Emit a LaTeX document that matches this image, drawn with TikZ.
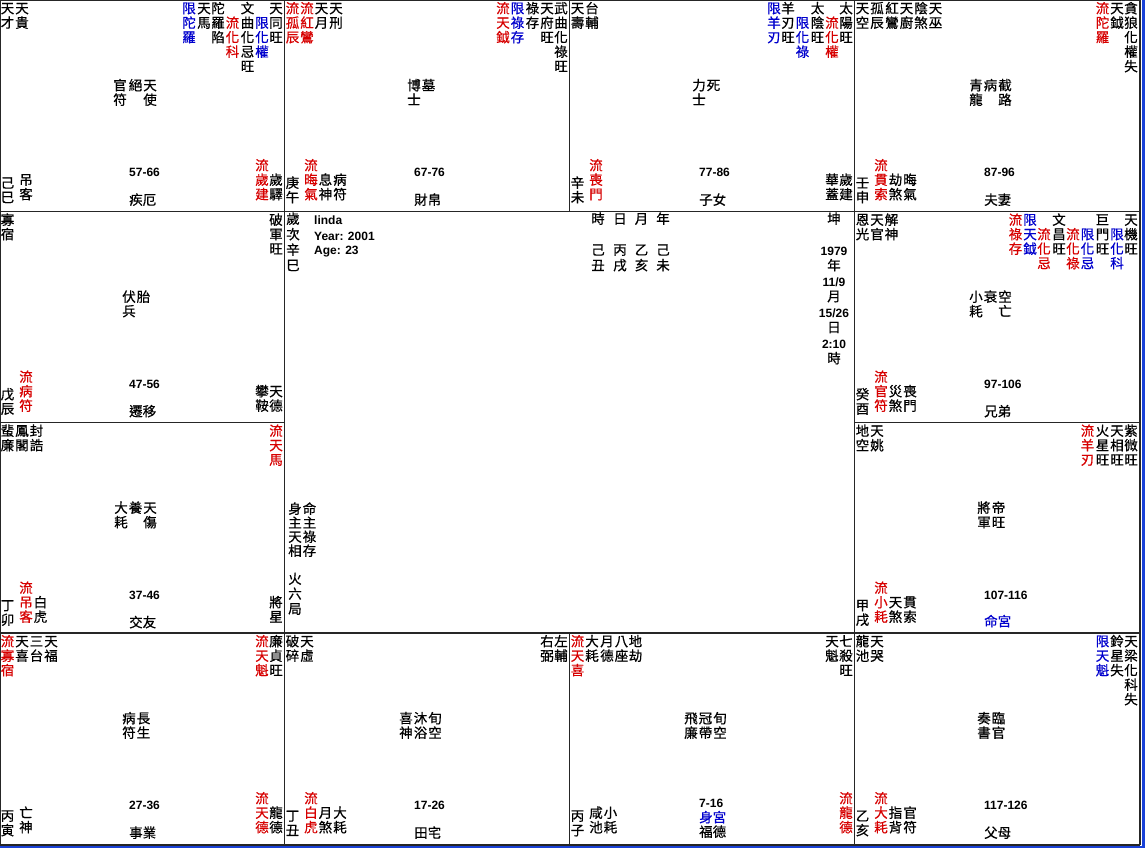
\documentclass[tikz,border=0pt]{standalone}
\usepackage{fontspec}
\setmainfont{Liberation Sans}
\newfontfamily\cjk[FakeBold=0.6]{Noto Sans CJK TC}
\definecolor{zred}{RGB}{215,0,0}
\definecolor{zblue}{RGB}{0,0,205}
\definecolor{zframe}{RGB}{25,65,215}
\newcount\nodecnt
\def\vstep{14.5}
\tikzset{
  ch/.style={inner sep=0pt, font=\cjk\fontsize{13.5}{13.5}\selectfont, text height=0.88em, text depth=0.12em, anchor=center},
  num/.style={inner sep=0pt, font=\fontsize{12}{12}\selectfont\bfseries, anchor=west},
  numc/.style={num, anchor=center},
  pal/.style={ch, anchor=west},
  gridline/.style={line width=1.3pt, black!85},
}
\newcommand\vcol[4]{%
  \foreach \ch [count=\i from 0] in {#4}{%
    \global\advance\nodecnt by 1
    \node[ch, text=#1, name=t\the\nodecnt] at (#2, {#3+\i*\vstep}) {\ch};}}
\begin{document}
\begin{tikzpicture}[x=1pt, y=-1pt]
\useasboundingbox (0,0) rectangle (1145,848);
\fill[white] (0,0) rectangle (1145,848);
% frame and grid
\fill[zframe] (1141.5,0) rectangle (1145,848);
\fill[zframe] (0,845.5) rectangle (1145,848);
\draw[gridline] (0,0.6) -- (1140,0.6);
\draw[gridline] (0.6,0) -- (0.6,845);
\draw[gridline] (1140,0) -- (1140,845);
\draw[gridline] (0,211.5) -- (1140,211.5);
\draw[gridline] (0,422.5) -- (285,422.5);
\draw[gridline] (855,422.5) -- (1140,422.5);
\draw[gridline] (0,633) -- (1140,633);
\draw[gridline] (0,845) -- (1140,845);
\draw[gridline] (284.5,0) -- (284.5,845);
\draw[gridline] (854.5,0) -- (854.5,845);
\draw[gridline] (569.5,0) -- (569.5,211.5);
\draw[gridline] (569.5,633) -- (569.5,845);

% ===== cell 巳 =====
\begin{scope}[shift={(0,0)}]
\vcol{black}{7.5}{9.5}{天,才}
\vcol{black}{22}{9.5}{天,貴}
\vcol{zblue}{189}{9.5}{限,陀,羅}
\vcol{black}{204}{9.5}{天,馬}
\vcol{black}{218}{9.5}{陀,羅,陷}
\vcol{zred}{232.5}{24}{流,化,科}
\vcol{black}{247.5}{9.5}{文,曲,化,忌,旺}
\vcol{zblue}{262}{24}{限,化,權}
\vcol{black}{276}{9.5}{天,同,旺}
\vcol{black}{120}{86.5}{官,符}
\vcol{black}{135.5}{86.5}{絕}
\vcol{black}{150}{86.5}{天,使}
\vcol{black}{7.5}{184}{己,巳}
\vcol{black}{26}{181}{吊,客}
\vcol{zred}{262}{166.5}{流,歲,建}
\vcol{black}{276}{181}{歲,驛}
\node[num, name=n1] at (129,172.5) {57-66};
\node[pal, name=p1] at (129,201) {疾厄};
\end{scope}

% ===== cell 午 =====
\begin{scope}[shift={(285,0)}]
\vcol{zred}{7.5}{9.5}{流,孤,辰}
\vcol{zred}{22}{9.5}{流,紅,鸞}
\vcol{black}{36.5}{9.5}{天,月}
\vcol{black}{51}{9.5}{天,刑}
\vcol{zred}{218}{9.5}{流,天,鉞}
\vcol{zblue}{232.5}{9.5}{限,祿,存}
\vcol{black}{247.5}{9.5}{祿,存}
\vcol{black}{262}{9.5}{天,府,旺}
\vcol{black}{276}{9.5}{武,曲,化,祿,旺}
\vcol{black}{129}{86.5}{博,士}
\vcol{black}{143.5}{86.5}{墓}
\vcol{black}{7.5}{184}{庚,午}
\vcol{zred}{26}{166.5}{流,晦,氣}
\vcol{black}{40.5}{181}{息,神}
\vcol{black}{55}{181}{病,符}
\node[num, name=n2] at (129,172.5) {67-76};
\node[pal, name=p2] at (129,201) {財帛};
\end{scope}

% ===== cell 未 =====
\begin{scope}[shift={(570,0)}]
\vcol{black}{7.5}{9.5}{天,壽}
\vcol{black}{22}{9.5}{台,輔}
\vcol{zblue}{204}{9.5}{限,羊,刃}
\vcol{black}{218}{9.5}{羊,刃,旺}
\vcol{zblue}{232.5}{24}{限,化,祿}
\vcol{black}{247.5}{9.5}{太,陰,旺}
\vcol{zred}{262}{24}{流,化,權}
\vcol{black}{276}{9.5}{太,陽,旺}
\vcol{black}{129}{86.5}{力,士}
\vcol{black}{143.5}{86.5}{死}
\vcol{black}{7.5}{184}{辛,未}
\vcol{zred}{26}{166.5}{流,喪,門}
\vcol{black}{262}{181}{華,蓋}
\vcol{black}{276}{181}{歲,建}
\node[num, name=n3] at (129,172.5) {77-86};
\node[pal, name=p3] at (129,201) {子女};
\end{scope}

% ===== cell 申 =====
\begin{scope}[shift={(855,0)}]
\vcol{black}{7.5}{9.5}{天,空}
\vcol{black}{22}{9.5}{孤,辰}
\vcol{black}{37}{9.5}{紅,鸞}
\vcol{black}{51.5}{9.5}{天,廚}
\vcol{black}{66}{9.5}{陰,煞}
\vcol{black}{80.5}{9.5}{天,巫}
\vcol{zred}{247.5}{9.5}{流,陀,羅}
\vcol{black}{262}{9.5}{天,鉞}
\vcol{black}{276}{9.5}{貪,狼,化,權,失}
\vcol{black}{121}{86.5}{青,龍}
\vcol{black}{135.5}{86.5}{病}
\vcol{black}{150}{86.5}{截,路}
\vcol{black}{7.5}{184}{壬,申}
\vcol{zred}{26}{166.5}{流,貫,索}
\vcol{black}{40.5}{181}{劫,煞}
\vcol{black}{55}{181}{晦,氣}
\node[num, name=n4] at (129,172.5) {87-96};
\node[pal, name=p4] at (129,201) {夫妻};
\end{scope}

% ===== cell 辰 =====
\begin{scope}[shift={(0,211.5)}]
\vcol{black}{7.5}{9.5}{寡,宿}
\vcol{black}{276}{9.5}{破,軍,旺}
\vcol{black}{129}{86.5}{伏,兵}
\vcol{black}{143.5}{86.5}{胎}
\vcol{black}{7.5}{184}{戊,辰}
\vcol{zred}{26}{166.5}{流,病,符}
\vcol{black}{262}{181}{攀,鞍}
\vcol{black}{276}{181}{天,德}
\node[num, name=n5] at (129,172.5) {47-56};
\node[pal, name=p5] at (129,201) {遷移};
\end{scope}

% ===== cell 酉 =====
\begin{scope}[shift={(855,211.5)}]
\vcol{black}{7.5}{9.5}{恩,光}
\vcol{black}{22}{9.5}{天,官}
\vcol{black}{36.5}{9.5}{解,神}
\vcol{zred}{160.5}{9.5}{流,祿,存}
\vcol{zblue}{175}{9.5}{限,天,鉞}
\vcol{zred}{189}{24}{流,化,忌}
\vcol{black}{204}{9.5}{文,昌,旺}
\vcol{zred}{218}{24}{流,化,祿}
\vcol{zblue}{232.5}{24}{限,化,忌}
\vcol{black}{247.5}{9.5}{巨,門,旺}
\vcol{zblue}{262}{24}{限,化,科}
\vcol{black}{276}{9.5}{天,機,旺}
\vcol{black}{121}{86.5}{小,耗}
\vcol{black}{135.5}{86.5}{衰}
\vcol{black}{150}{86.5}{空,亡}
\vcol{black}{7.5}{184}{癸,酉}
\vcol{zred}{26}{166.5}{流,官,符}
\vcol{black}{40.5}{181}{災,煞}
\vcol{black}{55}{181}{喪,門}
\node[num, name=n6] at (129,172.5) {97-106};
\node[pal, name=p6] at (129,201) {兄弟};
\end{scope}

% ===== cell 卯 =====
\begin{scope}[shift={(0,422.5)}]
\vcol{black}{7.5}{9.5}{蜚,廉}
\vcol{black}{22}{9.5}{鳳,閣}
\vcol{black}{36.5}{9.5}{封,誥}
\vcol{zred}{276}{9.5}{流,天,馬}
\vcol{black}{121}{86.5}{大,耗}
\vcol{black}{135.5}{86.5}{養}
\vcol{black}{150}{86.5}{天,傷}
\vcol{black}{7.5}{184}{丁,卯}
\vcol{zred}{26}{166.5}{流,吊,客}
\vcol{black}{40.5}{181}{白,虎}
\vcol{black}{276}{181}{將,星}
\node[num, name=n7] at (129,172.5) {37-46};
\node[pal, name=p7] at (129,201) {交友};
\end{scope}

% ===== cell 戌 =====
\begin{scope}[shift={(855,422.5)}]
\vcol{black}{7.5}{9.5}{地,空}
\vcol{black}{22}{9.5}{天,姚}
\vcol{zred}{232.5}{9.5}{流,羊,刃}
\vcol{black}{247.5}{9.5}{火,星,旺}
\vcol{black}{262}{9.5}{天,相,旺}
\vcol{black}{276}{9.5}{紫,微,旺}
\vcol{black}{129}{86.5}{將,軍}
\vcol{black}{143.5}{86.5}{帝,旺}
\vcol{black}{7.5}{184}{甲,戌}
\vcol{zred}{26}{166.5}{流,小,耗}
\vcol{black}{40.5}{181}{天,煞}
\vcol{black}{55}{181}{貫,索}
\node[num, name=n8] at (129,172.5) {107-116};
\node[pal, text=zblue, name=p8] at (129,200) {命宮};
\end{scope}

% ===== cell 寅 =====
\begin{scope}[shift={(0,633)}]
\vcol{zred}{7.5}{9.5}{流,寡,宿}
\vcol{black}{22}{9.5}{天,喜}
\vcol{black}{36.5}{9.5}{三,台}
\vcol{black}{51}{9.5}{天,福}
\vcol{zred}{262}{9.5}{流,天,魁}
\vcol{black}{276}{9.5}{廉,貞,旺}
\vcol{black}{129}{86.5}{病,符}
\vcol{black}{143.5}{86.5}{長,生}
\vcol{black}{7.5}{184}{丙,寅}
\vcol{black}{26}{181}{亡,神}
\vcol{zred}{262}{166.5}{流,天,德}
\vcol{black}{276}{181}{龍,德}
\node[num, name=n9] at (129,172.5) {27-36};
\node[pal, name=p9] at (129,201) {事業};
\end{scope}

% ===== cell 丑 =====
\begin{scope}[shift={(285,633)}]
\vcol{black}{7.5}{9.5}{破,碎}
\vcol{black}{22}{9.5}{天,虛}
\vcol{black}{262}{9.5}{右,弼}
\vcol{black}{276}{9.5}{左,輔}
\vcol{black}{121}{86.5}{喜,神}
\vcol{black}{135.5}{86.5}{沐,浴}
\vcol{black}{150}{86.5}{旬,空}
\vcol{black}{7.5}{184}{丁,丑}
\vcol{zred}{26}{166.5}{流,白,虎}
\vcol{black}{40.5}{181}{月,煞}
\vcol{black}{55}{181}{大,耗}
\node[num, name=n10] at (129,172.5) {17-26};
\node[pal, name=p10] at (129,201) {田宅};
\end{scope}

% ===== cell 子 =====
\begin{scope}[shift={(570,633)}]
\vcol{zred}{7.5}{9.5}{流,天,喜}
\vcol{black}{22}{9.5}{大,耗}
\vcol{black}{37}{9.5}{月,德}
\vcol{black}{51.5}{9.5}{八,座}
\vcol{black}{65.5}{9.5}{地,劫}
\vcol{black}{262}{9.5}{天,魁}
\vcol{black}{276}{9.5}{七,殺,旺}
\vcol{black}{121}{86.5}{飛,廉}
\vcol{black}{135.5}{86.5}{冠,帶}
\vcol{black}{150}{86.5}{旬,空}
\vcol{black}{7.5}{184}{丙,子}
\vcol{black}{26}{181}{咸,池}
\vcol{black}{40.5}{181}{小,耗}
\vcol{zred}{276}{166.5}{流,龍,德}
\node[num, name=n11] at (129,170.5) {7-16};
\node[pal, text=zblue, name=p11a] at (129,185.5) {身宮};
\node[pal, name=p11] at (129,200) {福德};
\end{scope}

% ===== cell 亥 =====
\begin{scope}[shift={(855,633)}]
\vcol{black}{7.5}{9.5}{龍,池}
\vcol{black}{22}{9.5}{天,哭}
\vcol{zblue}{247.5}{9.5}{限,天,魁}
\vcol{black}{262}{9.5}{鈴,星,失}
\vcol{black}{276}{9.5}{天,梁,化,科,失}
\vcol{black}{129}{86.5}{奏,書}
\vcol{black}{143.5}{86.5}{臨,官}
\vcol{black}{7.5}{184}{乙,亥}
\vcol{zred}{26}{166.5}{流,大,耗}
\vcol{black}{40.5}{181}{指,背}
\vcol{black}{55}{181}{官,符}
\node[num, name=n12] at (129,172.5) {117-126};
\node[pal, name=p12] at (129,201) {父母};
\end{scope}

% ===== centre =====
{\def\vstep{15.5}
\vcol{black}{293}{220}{歲,次,辛,巳}
\vcol{black}{598}{220}{時}
\vcol{black}{620}{220}{日}
\vcol{black}{641.5}{220}{月}
\vcol{black}{663}{220}{年}
\vcol{black}{598}{251}{己,丑}
\vcol{black}{620}{251}{丙,戌}
\vcol{black}{641.5}{251}{乙,亥}
\vcol{black}{663}{251}{己,未}
}
\node[num, name=nm] at (314,220) {linda};
\node[num, name=ny] at (314,236) {Year: 2001};
\node[num, name=na] at (314,252) {Age: 23};
\node[ch, name=k0] at (834,220) {坤};
\node[numc, name=k1] at (834,251) {1979};
\node[ch, name=k2] at (834,266.5) {年};
\node[numc, name=k3] at (834,282) {11/9};
\node[ch, name=k4] at (834,297.5) {月};
\node[numc, name=k5] at (834,313) {15/26};
\node[ch, name=k6] at (834,328.5) {日};
\node[numc, name=k7] at (834,344) {2:10};
\node[ch, name=k8] at (834,359.5) {時};
{\def\vstep{14}
\vcol{black}{295}{510}{身,主,天,相}
\vcol{black}{309.5}{510}{命,主,祿,存}
}
{\def\vstep{15}
\vcol{black}{295}{580}{火,六,局}
}
\end{tikzpicture}
\end{document}
